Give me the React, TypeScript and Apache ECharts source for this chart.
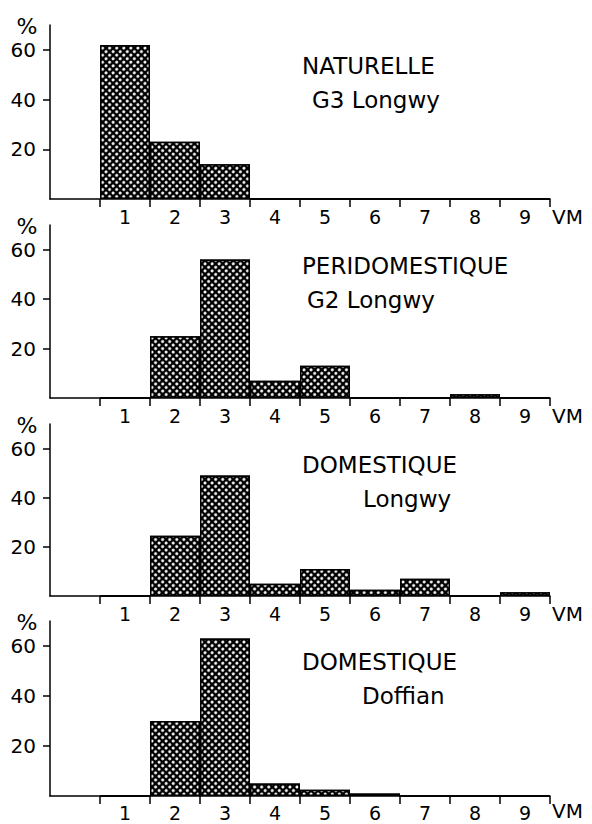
import React, { useEffect, useRef } from 'react';
import * as echarts from 'echarts';

const CLASSES = ['1', '2', '3', '4', '5', '6', '7', '8', '9'];
const Y_TICKS = [20, 40, 60];
const NATURELLE_G3 = [62, 23, 14, 0, 0, 0, 0, 0, 0];
const PERIDOMESTIQUE_G2 = [0, 25, 56, 7, 13, 0, 0, 1.5, 0];
const DOMESTIQUE_LONGWY = [0, 24.5, 49, 5, 11, 2.5, 7, 0, 1.5];
const DOMESTIQUE_DOFFIAN = [0, 30, 63, 5, 2.5, 1, 0, 0, 0];
const TITLES = ['NATURELLE', 'PERIDOMESTIQUE', 'DOMESTIQUE', 'DOMESTIQUE'];
const SUBTITLES = ['G3 Longwy', 'G2 Longwy', 'Longwy', 'Doffian'];
const X_NAME = 'VM';
const Y_NAME = '%';

const SERIES = [NATURELLE_G3, PERIDOMESTIQUE_G2, DOMESTIQUE_LONGWY, DOMESTIQUE_DOFFIAN];

// layout
const GRID_TOPS = [25, 225, 424, 621];
const GRID_HEIGHTS = [174, 173, 172, 175];
const SUB_X = [312, 307, 363, 362];
const FONT = '"DejaVu Sans", sans-serif';

export default function App() {
  const ref = useRef<HTMLDivElement>(null);
  useEffect(() => {
    if (!ref.current) return;
    const chart = echarts.init(ref.current, null, { renderer: 'svg' });
    const grids: any[] = [];
    const xAxes: any[] = [];
    const yAxes: any[] = [];
    const series: any[] = [];
    const graphics: any[] = [];
    SERIES.forEach((vals, i) => {
      const top = GRID_TOPS[i];
      const h = GRID_HEIGHTS[i];
      const last = i === SERIES.length - 1;
      grids.push({ left: 50, width: 500, top, height: h });
      xAxes.push({
        type: 'category',
        gridIndex: i,
        data: ['', ...CLASSES],
        boundaryGap: true,
        axisLine: { lineStyle: { color: '#000', width: 1.5 } },
        axisTick: {
          show: true,
          length: 8,
          inside: false,
          interval: (idx: number) => idx !== 0,
          lineStyle: { color: '#000', width: 1.5 },
        },
        axisLabel: { color: '#000', fontSize: 19, fontFamily: FONT, margin: last ? 7 : 8, interval: 0 },
        splitLine: { show: false },
      });
      yAxes.push({
        type: 'value',
        gridIndex: i,
        min: 0,
        max: 70,
        interval: 20,
        axisLine: { show: true, lineStyle: { color: '#000', width: 1.5 } },
        axisTick: { show: true, length: 7, customValues: Y_TICKS, lineStyle: { color: '#000', width: 1.5 } },
        axisLabel: { customValues: Y_TICKS, color: '#000', fontSize: 20, fontFamily: FONT, margin: 14 },
        splitLine: { show: false },
      });
      series.push({
        type: 'bar',
        xAxisIndex: i,
        yAxisIndex: i,
        data: [null, ...vals],
        barWidth: '100%',
        barCategoryGap: '0%',
        itemStyle: {
          color: '#000',
          borderColor: '#000',
          borderWidth: 1.5,
          decal: {
            symbol: 'circle',
            symbolSize: 1,
            color: '#fff',
            dashArrayX: [2.6, 1.2],
            dashArrayY: [2.6, 1.2],
            rotation: Math.PI / 4,
          },
        },
      });
      graphics.push(
        { type: 'text', x: 302, y: top + 41, style: { text: TITLES[i], font: `23px ${FONT}`, fill: '#000', verticalAlign: 'middle' } },
        { type: 'text', x: SUB_X[i], y: top + 75, style: { text: SUBTITLES[i], font: `23px ${FONT}`, fill: '#000', verticalAlign: 'middle' } },
        { type: 'text', x: 27, y: top + 1, style: { text: Y_NAME, font: `22px ${FONT}`, fill: '#000', align: 'center', verticalAlign: 'middle' } },
        { type: 'text', x: 552, y: top + h + (last ? 15 : 18), style: { text: X_NAME, font: `20px ${FONT}`, fill: '#000', verticalAlign: 'middle' } }
      );
    });
    chart.setOption({
      animation: false,
      backgroundColor: '#fff',
      grid: grids,
      xAxis: xAxes,
      yAxis: yAxes,
      series,
      graphic: graphics,
    });
    return () => chart.dispose();
  }, []);
  return <div ref={ref} style={{ position: 'absolute', left: 0, top: 0, width: 592, height: 824 }} />;
}
